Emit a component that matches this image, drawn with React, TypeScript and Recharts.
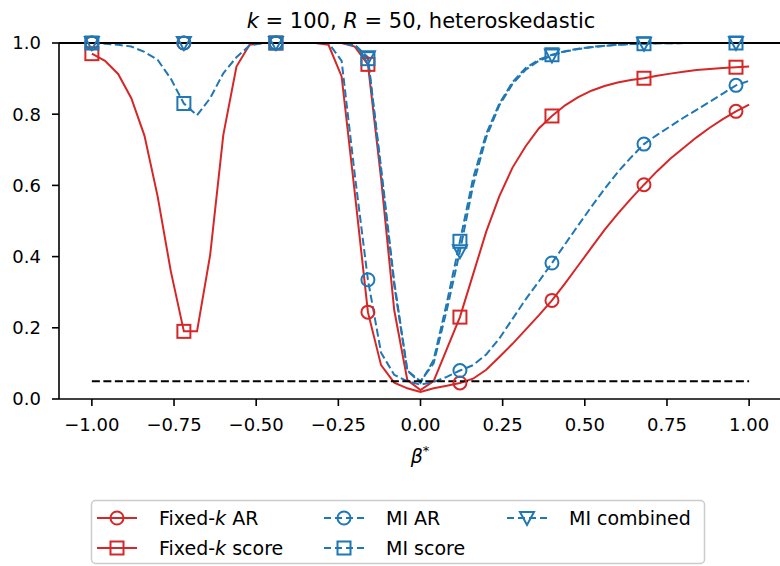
import React from "react";
import { LineChart, Line, XAxis, YAxis, ReferenceLine } from "recharts";

// beta* grid, one row per simulated value
const beta = [
  -1.0, -0.96, -0.92, -0.88, -0.84, -0.8, -0.76, -0.72, -0.68, -0.64,
  -0.6, -0.56, -0.52, -0.48, -0.44, -0.4, -0.36, -0.32, -0.28, -0.24,
  -0.2, -0.16, -0.12, -0.08, -0.04, 0.0, 0.04, 0.08, 0.12, 0.16,
  0.2, 0.24, 0.28, 0.32, 0.36, 0.4, 0.44, 0.48, 0.52, 0.56,
  0.6, 0.64, 0.68, 0.72, 0.76, 0.8, 0.84, 0.88, 0.92, 0.96, 1.0,
];

const fixedKAR = [
  1.0, 1.0, 1.0, 1.0, 1.0, 1.0, 1.0, 1.0, 1.0, 1.0,
  1.0, 1.0, 1.0, 1.0, 1.0, 1.0, 1.0, 1.0, 0.995, 0.906,
  0.58, 0.244, 0.095, 0.046, 0.03, 0.02, 0.03, 0.037, 0.045, 0.057,
  0.082, 0.118, 0.155, 0.195, 0.235, 0.277, 0.325, 0.375, 0.425, 0.475,
  0.52, 0.562, 0.602, 0.64, 0.675, 0.705, 0.735, 0.762, 0.786, 0.808, 0.827,
];

const fixedKScore = [
  0.97, 0.95, 0.913, 0.845, 0.74, 0.57, 0.36, 0.19, 0.19, 0.405,
  0.742, 0.934, 0.995, 1.0, 1.0, 1.0, 1.0, 1.0, 1.0, 1.0,
  0.99, 0.94, 0.62, 0.25, 0.053, 0.025, 0.05, 0.14, 0.23, 0.35,
  0.47, 0.57, 0.65, 0.71, 0.76, 0.795, 0.825, 0.848, 0.866, 0.879,
  0.889, 0.896, 0.901, 0.908, 0.914, 0.919, 0.924, 0.927, 0.93, 0.932, 0.934,
];

const miAR = [
  1.0, 1.0, 1.0, 1.0, 1.0, 1.0, 1.0, 1.0, 1.0, 1.0,
  1.0, 1.0, 1.0, 1.0, 1.0, 1.0, 1.0, 1.0, 1.0, 0.95,
  0.63, 0.335, 0.13, 0.068, 0.05, 0.04, 0.048, 0.062, 0.08, 0.095,
  0.125, 0.17, 0.225, 0.28, 0.33, 0.382, 0.435, 0.488, 0.54, 0.59,
  0.637, 0.678, 0.716, 0.742, 0.766, 0.79, 0.812, 0.835, 0.858, 0.881, 0.894,
];

const miScore = [
  1.0, 0.998, 0.995, 0.99, 0.975, 0.953, 0.9, 0.83, 0.797, 0.845,
  0.915, 0.96, 0.993, 1.0, 1.0, 1.0, 1.0, 1.0, 1.0, 1.0,
  0.993, 0.956, 0.65, 0.33, 0.08, 0.045, 0.11, 0.27, 0.443, 0.62,
  0.745, 0.83, 0.89, 0.93, 0.953, 0.967, 0.977, 0.984, 0.989, 0.992,
  0.995, 0.997, 0.998, 0.999, 0.999, 1.0, 1.0, 1.0, 1.0, 1.0, 1.0,
];

const miCombined = [
  1.0, 1.0, 1.0, 1.0, 1.0, 1.0, 1.0, 1.0, 1.0, 1.0,
  1.0, 1.0, 1.0, 1.0, 1.0, 1.0, 1.0, 1.0, 1.0, 1.0,
  0.995, 0.96, 0.64, 0.32, 0.08, 0.05, 0.1, 0.25, 0.415, 0.6,
  0.735, 0.825, 0.885, 0.925, 0.95, 0.965, 0.976, 0.983, 0.988, 0.992,
  0.995, 0.997, 0.998, 0.999, 0.999, 1.0, 1.0, 1.0, 1.0, 1.0, 1.0,
];

const xTicks = [-1, -0.75, -0.5, -0.25, 0, 0.25, 0.5, 0.75, 1];
const yTicks = [0, 0.2, 0.4, 0.6, 0.8, 1];
const nominalLevel = 0.05;

const RED = "#d62728";
const BLUE = "#1f77b4";
const FONT = "'DejaVu Sans', sans-serif";
const MARK_EVERY = 7;
const DASH = "8 3.5";

type Shape = "circle" | "square" | "triangle";

const series: { key: string; name: string; color: string; dashed: boolean; shape: Shape }[] = [
  { key: "fixedKAR", name: "Fixed-k AR", color: RED, dashed: false, shape: "circle" },
  { key: "fixedKScore", name: "Fixed-k score", color: RED, dashed: false, shape: "square" },
  { key: "miAR", name: "MI AR", color: BLUE, dashed: true, shape: "circle" },
  { key: "miScore", name: "MI score", color: BLUE, dashed: true, shape: "square" },
  { key: "miCombined", name: "MI combined", color: BLUE, dashed: true, shape: "triangle" },
];

const rows = beta.map((b, i) => ({
  beta: b,
  fixedKAR: fixedKAR[i],
  fixedKScore: fixedKScore[i],
  miAR: miAR[i],
  miScore: miScore[i],
  miCombined: miCombined[i],
}));

const Marker = ({ shape, cx, cy, color }: { shape: Shape; cx: number; cy: number; color: string }) => {
  const common = { fill: "none", stroke: color, strokeWidth: 2, strokeDasharray: "none" };
  if (shape === "circle") return <circle cx={cx} cy={cy} r={6.5} {...common} />;
  if (shape === "square") return <rect x={cx - 6.5} y={cy - 6.5} width={13} height={13} {...common} />;
  return <path d={`M${cx - 7} ${cy - 6}L${cx + 7} ${cy - 6}L${cx} ${cy + 7}Z`} {...common} />;
};

const fmtX = (v: number) => (v < 0 ? "\u2212" : "") + Math.abs(v).toFixed(2);
const fmtY = (v: number) => v.toFixed(1);

// legend slots: [handle left, row centre]
const legendSlots = [
  { x: 97, y: 518 },
  { x: 97, y: 548 },
  { x: 324, y: 518 },
  { x: 324, y: 548 },
  { x: 507, y: 518 },
];

const LegendLabel = ({ name }: { name: string }) => {
  const [head, ...rest] = name.split("-k");
  if (rest.length === 0) return <>{name}</>;
  return (
    <>
      {head}-<tspan fontStyle="italic">k</tspan>
      {rest.join("-k")}
    </>
  );
};

export default function App() {
  return (
    <div style={{ position: "absolute", left: 0, top: 0, width: 780, height: 566, background: "#fff" }}>
      <LineChart width={780} height={566} data={rows} margin={{ top: 43, right: -2, bottom: 0, left: 0 }}>
        <XAxis
          dataKey="beta"
          type="number"
          domain={[-1.1, 1.1]}
          ticks={xTicks}
          tickFormatter={fmtX}
          height={167}
          tickSize={7}
          tickMargin={12}
          axisLine={{ stroke: "#000", strokeWidth: 1.6 }}
          tickLine={{ stroke: "#000", strokeWidth: 1.6 }}
          tick={{ fill: "#000", fontSize: 18, fontFamily: FONT }}
        />
        <YAxis
          type="number"
          domain={[0, 1]}
          ticks={yTicks}
          tickFormatter={fmtY}
          width={59}
          tickSize={7}
          tickMargin={11}
          axisLine={{ stroke: "#000", strokeWidth: 1.6 }}
          tickLine={{ stroke: "#000", strokeWidth: 1.6 }}
          tick={{ fill: "#000", fontSize: 18, fontFamily: FONT }}
        />
        {series.map(s => (
          <Line
            key={s.key}
            dataKey={s.key}
            name={s.name}
            type="linear"
            stroke={s.color}
            strokeWidth={2}
            strokeDasharray={s.dashed ? DASH : undefined}
            isAnimationActive={false}
            activeDot={false}
            dot={(p: any) =>
              p.index % MARK_EVERY === 0 ? (
                <Marker key={`${s.key}-${p.index}`} shape={s.shape} cx={p.cx} cy={p.cy} color={s.color} />
              ) : (
                <g key={`${s.key}-${p.index}`} />
              )
            }
          />
        ))}
        <ReferenceLine
          segment={[{ x: -1, y: nominalLevel }, { x: 1, y: nominalLevel }]}
          stroke="#000"
          strokeWidth={2}
          strokeDasharray={DASH}
        />
        <ReferenceLine y={1} stroke="#000" strokeWidth={1.8} />
      </LineChart>

      <svg
        width={780}
        height={566}
        style={{ position: "absolute", left: 0, top: 0, pointerEvents: "none" }}
        fontFamily={FONT}
      >
        <text x={421} y={28} textAnchor="middle" fontSize={21} fill="#000">
          <tspan fontStyle="italic">k</tspan>
          {" = 100, "}
          <tspan fontStyle="italic">R</tspan>
          {" = 50, heteroskedastic"}
        </text>
        <text x={420} y={463} textAnchor="middle" fontSize={19} fill="#000">
          <tspan fontStyle="italic">β</tspan>
          <tspan fontSize={13} dy={-8}>*</tspan>
        </text>

        <rect x={91.5} y={500.5} width={613} height={63} rx={4} fill="#fff" stroke="#cccccc" strokeWidth={1.5} />
        {series.map((s, i) => {
          const slot = legendSlots[i];
          return (
            <g key={s.key}>
              <line
                x1={slot.x}
                x2={slot.x + 40}
                y1={slot.y}
                y2={slot.y}
                stroke={s.color}
                strokeWidth={2}
                strokeDasharray={s.dashed ? "7 4" : undefined}
              />
              <Marker shape={s.shape} cx={slot.x + 20} cy={slot.y} color={s.color} />
              <text x={slot.x + 62} y={slot.y + 7} fontSize={19} fill="#000">
                <LegendLabel name={s.name} />
              </text>
            </g>
          );
        })}
      </svg>
    </div>
  );
}
